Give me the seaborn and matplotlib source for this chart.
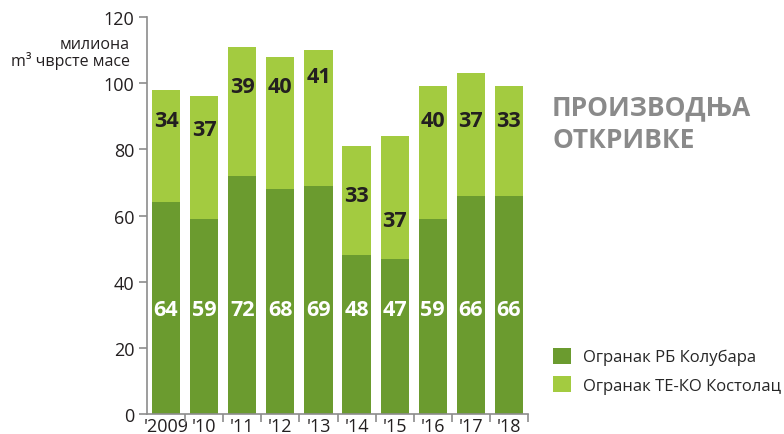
import numpy as np
import pandas as pd
import matplotlib
matplotlib.use("Agg")
import matplotlib.pyplot as plt
from matplotlib.patches import Patch
from matplotlib.ticker import FixedLocator
import seaborn as sns

# data (million m3 of overburden)
years = ["'2009", "'10", "'11", "'12", "'13", "'14", "'15", "'16", "'17", "'18"]
kolubara = [64, 59, 72, 68, 69, 48, 47, 59, 66, 66]
kostolac = [34, 37, 39, 40, 41, 33, 37, 40, 37, 33]
series_names = ["Огранак РБ Колубара", "Огранак ТЕ-КО Костолац"]
title = "ПРОИЗВОДЊА\nОТКРИВКЕ"

# where the value labels sit (data units)
dark_label_y = 31.7
light_label_y = [88.6, 85.9, 99, 99, 102, 66, 58.6, 88.6, 88.6, 88.6]

dark = "#6b9b2f"
light = "#a3cb40"
grey = "#8c8c8c"

sns.set_style("white")
plt.rcParams['font.family'] = ['Open Sans', 'DejaVu Sans']

df = pd.DataFrame({"year": years, "kolubara": kolubara, "kostolac": kostolac})
df["total"] = df["kolubara"] + df["kostolac"]

fig = plt.figure(figsize=(7.84, 4.35), dpi=100)
ax = fig.add_axes([147/784, 20/435, 381/784, 397/435])

# stacked look: total bars first, then the lower segment on top
sns.barplot(data=df, x="year", y="total", color=light, width=0.74,
            saturation=1, linewidth=0, ax=ax, order=years)
sns.barplot(data=df, x="year", y="kolubara", color=dark, width=0.74,
            saturation=1, linewidth=0, ax=ax, order=years)

for i in range(len(years)):
    ax.text(i, dark_label_y, str(kolubara[i]), ha="center", va="center",
            color="white", fontsize=15.5, fontweight="bold")
    ax.text(i, light_label_y[i], str(kostolac[i]), ha="center", va="center",
            color="#231f20", fontsize=15.5, fontweight="bold")

ax.set_xlim(-0.5, 9.5)
ax.set_ylim(0, 120)
ax.set_yticks(np.arange(0, 121, 20))
ax.set_xlabel("")
ax.set_ylabel("")
for s in ["top", "right"]:
    ax.spines[s].set_visible(False)
for s in ["left", "bottom"]:
    ax.spines[s].set_color(grey)
    ax.spines[s].set_linewidth(1.2)

ax.tick_params(axis="y", direction="out", length=6, width=1.2, color=grey,
               labelsize=13, labelcolor="#231f20", pad=3, left=True)
ax.tick_params(axis="x", which="major", length=0, labelsize=13,
               labelcolor="#231f20", pad=2)
ax.xaxis.set_minor_locator(FixedLocator(np.arange(0.5, 10, 1)))
ax.tick_params(axis="x", which="minor", direction="out", length=6,
               width=1.2, color=grey, bottom=True)

fig.text(130/784, 1 - 45/435, "милиона", ha="right", va="center",
         fontsize=11.5, color="#231f20")
fig.text(130/784, 1 - 61/435, "m³ чврсте масе", ha="right", va="center",
         fontsize=11.5, color="#231f20")

fig.text(552/784, 1 - 124/435, title, ha="left", va="center",
         fontsize=19, fontweight="bold", color="#8a8a8a", linespacing=1.3)

handles = [Patch(facecolor=dark, edgecolor="none"),
           Patch(facecolor=light, edgecolor="none")]
fig.legend(handles, series_names, loc="upper left",
           bbox_to_anchor=(546/784, 1 - 342/435), frameon=False,
           fontsize=12, handlelength=1.1, handleheight=1.1,
           handletextpad=0.7, labelspacing=0.65, borderaxespad=0)

fig.savefig("out.png", dpi=100)
